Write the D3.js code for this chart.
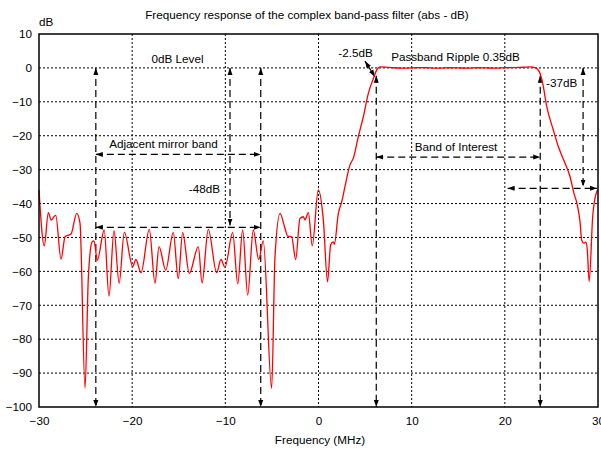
<!DOCTYPE html>
<html>
<head>
<meta charset="utf-8">
<script src="https://cdn.jsdelivr.net/npm/d3@7"></script>
<style>
  body { margin: 0; background: #fff; }
  text { font-family: "Liberation Sans", Arial, sans-serif; font-size: 11.7px; fill: #000; }
</style>
</head>
<body>
<svg width="601" height="450"></svg>
<script>
// response curve (MHz, dB)
const freq = [-30, -29.43, -29.0, -28.7, -28.4, -28.2, -27.64, -27.2, -26.85, -26.57, -25.95, -25.6,
  -25.06, -24.7, -24.3, -24.1, -23.74, -23.0, -22.49, -21.95, -21.4, -20.84, -19.94, -19.6, -19.05,
  -18.16, -17.55, -17.12, -16.4, -15.59, -15.05, -14.58, -13.87, -12.9, -12.5, -11.83, -10.93,
  -10.47, -10.04, -9.21, -8.67, -8.14, -7.6, -7.0, -6.42, -5.93, -5.03, -4.67, -4.13, -3.6, -3.31,
  -2.88, -2.45, -1.99, -1.63, -1.45, -1.09, -0.67, -0.02, 0.52, 0.97, 1.3, 1.59, 1.7, 2.13, 2.49,
  2.84, 3.38, 3.74, 4.27, 4.81, 5.35, 5.89, 6.25, 6.6, 7.2, 8, 9, 10, 11, 12, 13, 14, 15, 16, 17,
  18, 19, 20, 21, 22, 22.8, 23.24, 23.7, 24.06, 24.5, 25.2, 25.74, 26.46, 27.0, 27.42, 27.78, 28.07,
  28.25, 28.5, 28.7, 28.85, 29.05, 29.43, 29.86, 30];
const dB = [-36, -52.5, -42.7, -44.9, -43.9, -43.5, -56.4, -49.8, -49.3, -49.0, -42.9, -45.8,
  -94.4, -61.6, -51.3, -51, -56.7, -47.8, -67.3, -48.0, -63.5, -48.5, -58.6, -56.5, -60.4,
  -47.6, -63.5, -52.7, -59.6, -48.6, -62.1, -48.6, -60.6, -52.7, -63.4, -47.6, -60.4,
  -56.5, -58.8, -48.6, -63.7, -47.8, -67, -47.8, -56.5, -51.0, -94.5, -55.7, -42.9, -47.3, -49.6,
  -49.8, -56.5, -44.4, -43.9, -44.8, -42.7, -52.5, -36.0, -44.9, -63.1, -52.2, -51.3, -52, -42.9, -39.5,
  -35, -28.6, -26.6, -20.3, -14.4, -7.5, -3.1, -0.6, 0.3, 0.25, 0.05, -0.05, 0.0, 0.1, 0.0, -0.05,
  0.05, 0.0, -0.05, 0.05, 0.0, -0.05, 0.05, 0.1, 0.2, 0.3, 0.1, -1.1, -4.5, -11.4, -18.3, -23.2, -28.1,
  -32.1, -37, -40.4, -45.4, -50.8, -51.7, -51.4, -53.7, -63, -43.9, -36.5, -36];

const xTicks = [-30, -20, -10, 0, 10, 20, 30];
const yTicks = [10, 0, -10, -20, -30, -40, -50, -60, -70, -80, -90, -100];

// annotation arrows (MHz, dB)
const vArrows = [
  [-23.9, 0, -100], [-6.2, 0, -100], [-9.5, 0, -46.5],
  [6.2, -2.3, -100], [23.8, -2.3, -100], [28.4, 0, -35]
];
const hArrows = [
  [-23.9, -6.2, -25.5], [-23.9, -6.2, -47], [6.2, 23.8, -26.3], [20.3, 29.9, -35.5]
];
const diagArrow = [5.0, 2.0, 6.05, -2.6];

const labels = [
  ["0dB Level", -15.13, 1.45, "middle"],
  ["Adjacent mirror band", -16.64, -23.7, "middle"],
  ["-48dB", -10.57, -36.9, "end"],
  ["-2.5dB", 3.97, 3.36, "middle"],
  ["Passband Ripple 0.35dB", 14.7, 2.04, "middle"],
  ["-37dB", 24.42, -5.63, "start"],
  ["Band of Interest", 14.76, -24.5, "middle"]
];

const margin = { top: 34, right: 3, bottom: 43, left: 39 };
const width = 601 - margin.left - margin.right;
const height = 450 - margin.top - margin.bottom;

const svg = d3.select("svg");

const defs = svg.append("defs");
defs.append("marker")
  .attr("id", "arrow")
  .attr("viewBox", "0 -3 7 6")
  .attr("refX", 7)
  .attr("refY", 0)
  .attr("markerWidth", 7)
  .attr("markerHeight", 6)
  .attr("markerUnits", "userSpaceOnUse")
  .attr("orient", "auto-start-reverse")
  .append("path")
  .attr("d", "M0,-2.5L7,0L0,2.5Z")
  .attr("fill", "#000");

const g = svg.append("g")
  .attr("transform", `translate(${margin.left},${margin.top})`);

const x = d3.scaleLinear().domain([-30, 30]).range([0, width]);
const y = d3.scaleLinear().domain([-100, 10]).range([height, 0]);

/* grid */
g.selectAll(".gx")
  .data(xTicks.slice(1, -1))
  .enter()
  .append("line")
  .attr("x1", d => x(d)).attr("x2", d => x(d))
  .attr("y1", 0).attr("y2", height)
  .attr("stroke", "#000")
  .attr("stroke-width", 1)
  .attr("stroke-dasharray", "2,2");

g.selectAll(".gy")
  .data(yTicks.slice(1, -1))
  .enter()
  .append("line")
  .attr("x1", 0).attr("x2", width)
  .attr("y1", d => y(d)).attr("y2", d => y(d))
  .attr("stroke", "#000")
  .attr("stroke-width", 1)
  .attr("stroke-dasharray", "2,2");

/* axes */
const xAxis = g.append("g")
  .attr("transform", `translate(0,${height})`)
  .call(d3.axisBottom(x).tickValues(xTicks).tickSize(0).tickPadding(10));
const yAxis = g.append("g")
  .call(d3.axisLeft(y).tickValues(yTicks).tickSize(0).tickPadding(7));
[xAxis, yAxis].forEach(a => {
  a.select(".domain").remove();
  a.selectAll("text").attr("font-size", 11.7).attr("font-family", "Liberation Sans, Arial, sans-serif").attr("fill", "#000");
});

/* annotations */
const dash = "7,4";
g.selectAll(".va")
  .data(vArrows)
  .enter()
  .append("line")
  .attr("x1", d => x(d[0])).attr("x2", d => x(d[0]))
  .attr("y1", d => y(d[1])).attr("y2", d => y(d[2]))
  .attr("stroke", "#000").attr("stroke-width", 1.2)
  .attr("stroke-dasharray", dash)
  .attr("marker-start", "url(#arrow)")
  .attr("marker-end", "url(#arrow)");

g.selectAll(".ha")
  .data(hArrows)
  .enter()
  .append("line")
  .attr("x1", d => x(d[0])).attr("x2", d => x(d[1]))
  .attr("y1", d => y(d[2])).attr("y2", d => y(d[2]))
  .attr("stroke", "#000").attr("stroke-width", 1.2)
  .attr("stroke-dasharray", dash)
  .attr("marker-start", "url(#arrow)")
  .attr("marker-end", "url(#arrow)");

g.append("line")
  .attr("x1", x(diagArrow[0])).attr("y1", y(diagArrow[1]))
  .attr("x2", x(diagArrow[2])).attr("y2", y(diagArrow[3]))
  .attr("stroke", "#000").attr("stroke-width", 1.2)
  .attr("marker-start", "url(#arrow)")
  .attr("marker-end", "url(#arrow)");

/* curve */
const pts = freq.map((f, i) => [f, dB[i]]);
g.append("path")
  .datum(pts)
  .attr("fill", "none")
  .attr("stroke", "#f00")
  .attr("stroke-width", 1.3)
  .attr("d", d3.line()
    .x(d => x(d[0]))
    .y(d => y(d[1]))
    .curve(d3.curveMonotoneX));

/* frame */
g.append("rect")
  .attr("width", width).attr("height", height)
  .attr("fill", "none")
  .attr("stroke", "#000")
  .attr("stroke-width", 1.5);

/* labels */
g.selectAll(".lbl")
  .data(labels)
  .enter()
  .append("text")
  .attr("x", d => x(d[1]))
  .attr("y", d => y(d[2]))
  .attr("text-anchor", d => d[3])
  .text(d => d[0]);

svg.append("text")
  .attr("x", 307).attr("y", 19)
  .attr("text-anchor", "middle")
  .text("Frequency response of the complex band-pass filter (abs - dB)");

svg.append("text")
  .attr("x", 39).attr("y", 26)
  .text("dB");

svg.append("text")
  .attr("x", 320).attr("y", 444)
  .attr("text-anchor", "middle")
  .text("Frequency (MHz)");
</script>
</body>
</html>
